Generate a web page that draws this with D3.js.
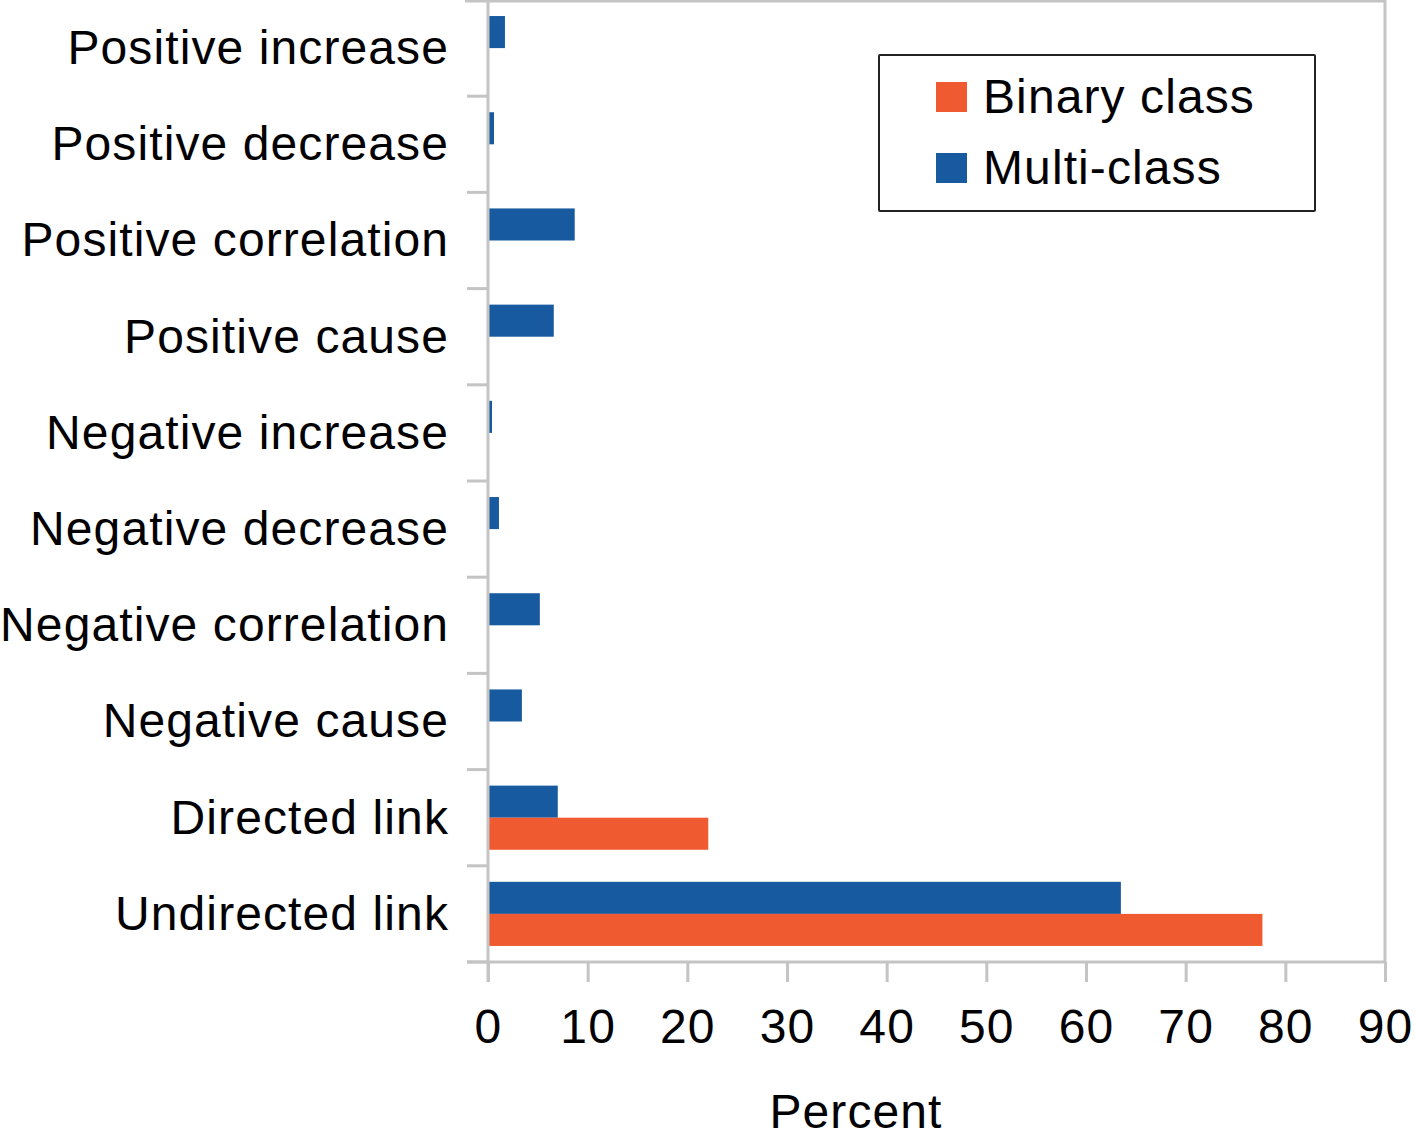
<!DOCTYPE html>
<html>
<head>
<meta charset="utf-8">
<script src="https://cdn.jsdelivr.net/npm/d3@7/dist/d3.min.js"></script>
<style>
  html, body { margin: 0; padding: 0; background: #fff; }
  svg { display: block; }
  text { font-family: "Liberation Sans", Arial, sans-serif; fill: #000; letter-spacing: 1.1px; }
</style>
</head>
<body>
<svg id="chart" width="1415" height="1140"></svg>
<script>
const categories = ["Positive increase", "Positive decrease", "Positive correlation", "Positive cause",
  "Negative increase", "Negative decrease", "Negative correlation", "Negative cause",
  "Directed link", "Undirected link"];
const seriesNames = ["Multi-class", "Binary class"];
const multiClass = [1.7, 0.6, 8.7, 6.6, 0.4, 1.1, 5.2, 3.4, 7.0, 63.5];
const binaryClass = [null, null, null, null, null, null, null, null, 22.1, 77.7];
const xTicks = [0, 10, 20, 30, 40, 50, 60, 70, 80, 90];
const legendOrder = ["Binary class", "Multi-class"];
const colors = { "Multi-class": "#175a9f", "Binary class": "#ef5a30" };

(function () {
const svg = d3.select("#chart");
const pLeft = 488, pRight = 1385, pTop = 0, pBottom = 962;
const axisColor = "#c4c4c4";
const fs = 48;

const x = d3.scaleLinear().domain([0, 90]).range([pLeft, pRight]);
const y = d3.scaleBand().domain(categories).range([pTop, pBottom]).paddingInner(0).paddingOuter(0);
const y1 = d3.scaleBand().domain(seriesNames).range([0, y.bandwidth()]).paddingOuter(0.5).paddingInner(0);

// frame lines (top & right)
svg.append("line").attr("x1", 465).attr("x2", pRight).attr("y1", 1).attr("y2", 1)
  .attr("stroke", axisColor).attr("stroke-width", 3);
svg.append("line").attr("x1", pRight).attr("x2", pRight).attr("y1", pTop).attr("y2", pBottom)
  .attr("stroke", axisColor).attr("stroke-width", 3);

// bars
const rows = categories.map((c, i) => ({ cat: c, vals: [
  { s: "Multi-class", v: multiClass[i] },
  { s: "Binary class", v: binaryClass[i] }
].filter(d => d.v != null) }));

const g = svg.append("g");
rows.forEach(r => {
  g.selectAll(null).data(r.vals).enter().append("rect")
    .attr("x", x(0))
    .attr("y", d => y(r.cat) + y1(d.s))
    .attr("width", d => x(d.v) - x(0))
    .attr("height", y1.bandwidth())
    .attr("fill", d => colors[d.s]);
});

// y axis: boundary ticks
const boundaries = d3.range(categories.length + 1).map(i => pTop + i * y.step());
svg.selectAll(".ybt").data(boundaries).enter().append("line")
  .attr("x1", 467).attr("x2", pLeft).attr("y1", d => d).attr("y2", d => d)
  .attr("stroke", axisColor).attr("stroke-width", 3);
svg.append("line").attr("x1", pLeft).attr("x2", pLeft).attr("y1", pTop).attr("y2", pBottom + 20)
  .attr("stroke", axisColor).attr("stroke-width", 3);

// y axis labels
const yAxis = d3.axisLeft(y).tickSize(0).tickPadding(0);
const yg = svg.append("g").attr("transform", `translate(449,0)`).call(yAxis);
yg.select(".domain").remove();
yg.selectAll("text").attr("font-size", fs).attr("dy", "0.33em")
  .style("font-family", '"Liberation Sans", Arial, sans-serif').attr("fill", "#000");

// x axis
const xAxis = d3.axisBottom(x).tickValues(xTicks).tickSize(20).tickPadding(0).tickFormat(d3.format("d"));
const xg = svg.append("g").attr("transform", `translate(0,${pBottom})`).call(xAxis);
xg.select(".domain").remove();
xg.selectAll(".tick line").attr("stroke", axisColor).attr("stroke-width", 3);
xg.selectAll("text").attr("font-size", fs).attr("y", 81).attr("dy", 0)
  .style("font-family", '"Liberation Sans", Arial, sans-serif').attr("fill", "#000");
svg.append("line").attr("x1", 467).attr("x2", pRight).attr("y1", pBottom).attr("y2", pBottom)
  .attr("stroke", axisColor).attr("stroke-width", 3);

// x axis title
svg.append("text").attr("x", 856).attr("y", 1128).attr("text-anchor", "middle")
  .attr("font-size", fs).text("Percent");

// legend
const lg = svg.append("g");
lg.append("rect").attr("x", 879).attr("y", 55).attr("width", 436).attr("height", 156)
  .attr("fill", "#fff").attr("stroke", "#222").attr("stroke-width", 2).attr("rx", 1);
legendOrder.forEach((s, i) => {
  const yy = 82 + i * 71;
  lg.append("rect").attr("x", 936).attr("y", yy).attr("width", 31).attr("height", 30).attr("fill", colors[s]);
  lg.append("text").attr("x", 983).attr("y", yy + 31).attr("font-size", fs).text(s);
});
})();
</script>
</body>
</html>
